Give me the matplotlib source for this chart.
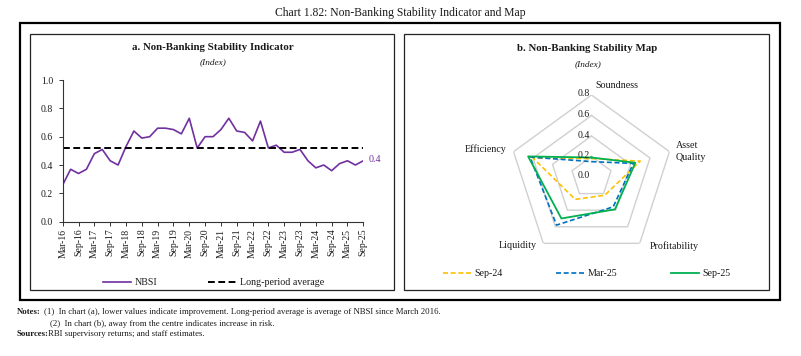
import numpy as np
import matplotlib
matplotlib.use("Agg")
import matplotlib.pyplot as plt
from matplotlib.patches import Rectangle
import matplotlib.transforms as mtransforms

plt.rcParams['font.family'] = ['Liberation Serif', 'DejaVu Serif']

# ---------------- data ----------------
nbsi = [0.26, 0.37, 0.34, 0.37, 0.48, 0.51, 0.43, 0.40, 0.53, 0.64,
        0.59, 0.60, 0.66, 0.66, 0.65, 0.62, 0.73, 0.52, 0.60, 0.60,
        0.65, 0.73, 0.64, 0.63, 0.57, 0.71, 0.52, 0.54, 0.49, 0.49,
        0.51, 0.43, 0.38, 0.40, 0.36, 0.41, 0.43, 0.40, 0.43]
long_period_avg = 0.52
x_tick_labels = ['Mar-16', 'Sep-16', 'Mar-17', 'Sep-17', 'Mar-18', 'Sep-18',
                 'Mar-19', 'Sep-19', 'Mar-20', 'Sep-20', 'Mar-21', 'Sep-21',
                 'Mar-22', 'Sep-22', 'Mar-23', 'Sep-23', 'Mar-24', 'Sep-24',
                 'Mar-25', 'Sep-25']
end_label = '0.4'

radar_categories = ['Soundness', 'Asset\nQuality', 'Profitability', 'Liquidity', 'Efficiency']
sep24 = [0.18, 0.50, 0.22, 0.27, 0.60]
mar25 = [0.15, 0.43, 0.36, 0.58, 0.63]
sep25 = [0.19, 0.45, 0.39, 0.50, 0.65]
radar_series_names = ['Sep-24', 'Mar-25', 'Sep-25']
radar_rings = [0.0, 0.2, 0.4, 0.6, 0.8]

# ---------------- figure ----------------
W, H = 801, 356
fig = plt.figure(figsize=(W / 100, H / 100), dpi=100)

def fx(px):
    return px / W

def fy(py):
    return 1 - py / H

txt_col = '#1a1a1a'

# Title
fig.text(fx(400), fy(13), 'Chart 1.82: Non-Banking Stability Indicator and Map',
         ha='center', va='center', fontsize=8.4, color=txt_col)

# Outer frame and panels
fig.add_artist(Rectangle((fx(19.5), fy(300)), fx(760), 277 / H, transform=fig.transFigure,
                         fill=False, lw=1.6, ec='black'))
fig.add_artist(Rectangle((fx(29.5), fy(290)), fx(364), 256.5 / H, transform=fig.transFigure,
                         fill=False, lw=0.9, ec='#222222'))
fig.add_artist(Rectangle((fx(404), fy(289.5)), fx(365), 256 / H, transform=fig.transFigure,
                         fill=False, lw=0.9, ec='#222222'))

# ---------------- panel a ----------------
fig.text(fx(213), fy(48), 'a. Non-Banking Stability Indicator', ha='center', va='center',
         fontsize=7.8, fontweight='bold', color=txt_col)
fig.text(fx(213), fy(62), '(Index)', ha='center', va='center', fontsize=6.7,
         style='italic', color=txt_col)

axa = fig.add_axes([fx(62.7), fy(221.7), fx(300.6), 141.7 / H])
x = np.arange(len(nbsi))
axa.plot(x, nbsi, color='#7030A0', lw=1.2, label='NBSI')
axa.plot([x[0], x[-1]], [long_period_avg, long_period_avg], color='black', lw=1.4,
         ls=(0, (3.5, 1.8)), label='Long-period average')
axa.set_xlim(0, len(nbsi) - 1)
axa.set_ylim(0, 1.0)
axa.set_yticks(np.arange(0, 1.01, 0.2))
axa.set_yticklabels([f'{v:.1f}' for v in np.arange(0, 1.01, 0.2)])
axa.set_xticks(np.arange(0, len(nbsi), 2))
axa.set_xticklabels(x_tick_labels, rotation=90)
for s in ['top', 'right']:
    axa.spines[s].set_visible(False)
for s in ['left', 'bottom']:
    axa.spines[s].set_color('#333333')
    axa.spines[s].set_linewidth(0.8)
axa.tick_params(axis='both', direction='out', length=3, width=0.7, color='#333333',
                labelsize=7, labelcolor=txt_col, pad=2)
axa.tick_params(axis='y', pad=4)
axa.patch.set_alpha(0)
axa.annotate(end_label, xy=(x[-1], nbsi[-1]), xytext=(4, 1), textcoords='offset points',
             color='#7030A0', fontsize=7.2, va='center', ha='left', annotation_clip=False)
axa.legend(loc='center', bbox_to_anchor=(fx(213.5), fy(282.7)), bbox_transform=fig.transFigure,
           ncol=2, frameon=False, fontsize=7.2, handlelength=2.8, handletextpad=0.4,
           columnspacing=5.0, borderpad=0, labelcolor=txt_col)

# ---------------- panel b ----------------
fig.text(fx(587.5), fy(48.5), 'b. Non-Banking Stability Map', ha='center', va='center',
         fontsize=7.8, fontweight='bold', color=txt_col)
fig.text(fx(588), fy(64.5), '(Index)', ha='center', va='center', fontsize=6.7,
         style='italic', color=txt_col)

cx, cy, R = 591.5, 177, 82
axb = fig.add_axes([fx(cx - R), fy(cy + R), fx(2 * R), 2 * R / H], projection='polar')
n = len(radar_categories)
angles = np.pi / 2 - np.arange(n) * 2 * np.pi / n
ang_closed = np.append(angles, angles[0])
axb.set_ylim(0, max(radar_rings))
axb.grid(False)
axb.spines['polar'].set_visible(False)
axb.set_xticks([])
axb.set_yticks([])
axb.patch.set_alpha(0)
for r in radar_rings[1:]:
    axb.plot(ang_closed, [r] * (n + 1), color='#D0D0D0', lw=1.0, zorder=1)

styles = [dict(color='#FFC000', ls=(0, (3, 1.6)), lw=1.2),
          dict(color='#0070C0', ls=(0, (3, 1.6)), lw=1.2),
          dict(color='#00B050', ls='-', lw=1.3)]
for vals, name, st in zip([sep24, mar25, sep25], radar_series_names, styles):
    axb.plot(ang_closed, list(vals) + [vals[0]], label=name, zorder=3, **st)

for r in radar_rings:
    tr = mtransforms.offset_copy(axb.transData, fig=fig, x=-1.5, y=1, units='dots')
    axb.text(np.pi / 2, r, f'{r:.1f}', transform=tr, ha='right', va='center',
             fontsize=7, color=txt_col, zorder=4)

label_specs = [(4, 9, 'left'), (6, 0, 'left'), (10, -2.5, 'left'),
               (-7, -2.5, 'right'), (-7.5, 2.5, 'right')]
for ang, cat, (ox, oy, ha) in zip(angles, radar_categories, label_specs):
    tr = mtransforms.offset_copy(axb.transData, fig=fig, x=ox, y=oy, units='dots')
    axb.text(ang, max(radar_rings), cat, transform=tr, ha=ha, va='center',
             fontsize=7.2, color=txt_col, linespacing=1.45)

axb.legend(loc='center', bbox_to_anchor=(fx(586.8), fy(274)), bbox_transform=fig.transFigure,
           ncol=3, frameon=False, fontsize=7.2, handlelength=2.8, handletextpad=0.4,
           columnspacing=5.3, borderpad=0, labelcolor=txt_col)

# ---------------- notes ----------------
fs_notes = 6.3
fig.text(fx(16.7), fy(312), 'Notes:', fontweight='bold', fontsize=fs_notes, va='center', color=txt_col)
fig.text(fx(44), fy(312), '(1)  In chart (a), lower values indicate improvement. Long-period average is average of NBSI since March 2016.',
         fontsize=fs_notes, va='center', color=txt_col)
fig.text(fx(50), fy(323.5), '(2)  In chart (b), away from the centre indicates increase in risk.',
         fontsize=fs_notes, va='center', color=txt_col)
fig.text(fx(16.7), fy(334), 'Sources:', fontweight='bold', fontsize=fs_notes, va='center', color=txt_col)
fig.text(fx(48), fy(334), 'RBI supervisory returns; and staff estimates.',
         fontsize=fs_notes, va='center', color=txt_col)

fig.savefig('out.png', dpi=100)
